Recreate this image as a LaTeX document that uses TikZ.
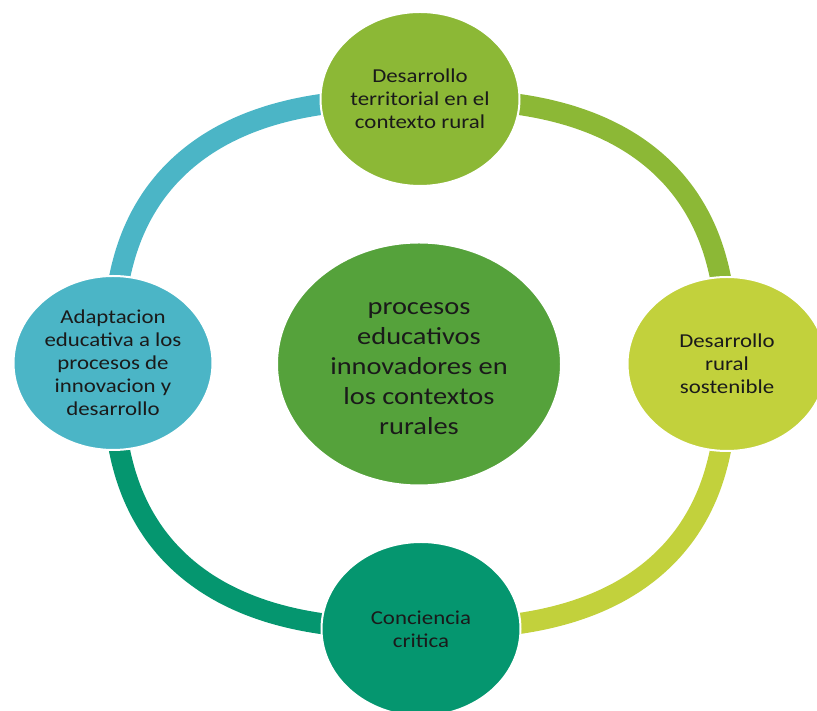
\documentclass[tikz,border=0pt]{standalone}
\usepackage{fontspec}
\setmainfont{Carlito}[FakeStretch=1.16]
\usetikzlibrary{shapes.geometric}
\definecolor{cblue}{HTML}{4BB5C6}
\definecolor{cgreen}{HTML}{8CB836}
\definecolor{cyellow}{HTML}{C2D13C}
\definecolor{cteal}{HTML}{05966F}
\definecolor{ccenter}{HTML}{55A23B}
\definecolor{ctext}{HTML}{1A1A1A}
\tikzset{
  ringarc/.style={line width=21pt},
  smallcirc/.style={ellipse, draw=white, line width=2pt, minimum width=199pt, minimum height=174pt,
    inner sep=0pt, align=center, text=ctext, font=\fontsize{19.7pt}{23pt}\selectfont},
  bigcirc/.style={ellipse, draw=white, line width=2pt, minimum width=284pt, minimum height=243pt,
    inner sep=0pt},
  bigtext/.style={align=center, text=ctext, inner sep=0pt, font=\fontsize{24.5pt}{30pt}\selectfont}
}
\begin{document}
\begin{tikzpicture}[x=1pt,y=1pt]
\useasboundingbox (0,0) rectangle (817,711);
% ring segments (superellipse quadrants)
\draw[ringarc, cblue] plot[domain=1:89, samples=60, smooth]
  ({420-307*pow(cos(\x),0.77)}, {347+265*pow(sin(\x),0.77)});
\draw[ringarc, cgreen] plot[domain=1:89, samples=60, smooth]
  ({420+307*pow(cos(\x),0.77)}, {347+265*pow(sin(\x),0.77)});
\draw[ringarc, cyellow] plot[domain=1:89, samples=60, smooth]
  ({420+307*pow(cos(\x),0.77)}, {347-265*pow(sin(\x),0.77)});
\draw[ringarc, cteal] plot[domain=1:89, samples=60, smooth]
  ({420-307*pow(cos(\x),0.77)}, {347-265*pow(sin(\x),0.77)});
% circles
\node[bigcirc, fill=ccenter] (center) at (419,347) {};
\node[bigtext] (centertext) at ([yshift=-5pt]center.center) {procesos\\educativos\\innovadores en\\los contextos\\rurales};
\node[smallcirc, fill=cgreen] (top) at (420,612) {Desarrollo\\territorial en el\\contexto rural};
\node[smallcirc, fill=cyellow] (right) at (727,347) {Desarrollo\\rural\\sostenible};
\node[smallcirc, fill=cteal] (bottom) at (421,82) {Conciencia\\critica};
\node[smallcirc, fill=cblue] (left) at (113,348) {Adaptacion\\educativa a los\\procesos de\\innovacion y\\desarrollo};
\end{tikzpicture}
\end{document}
